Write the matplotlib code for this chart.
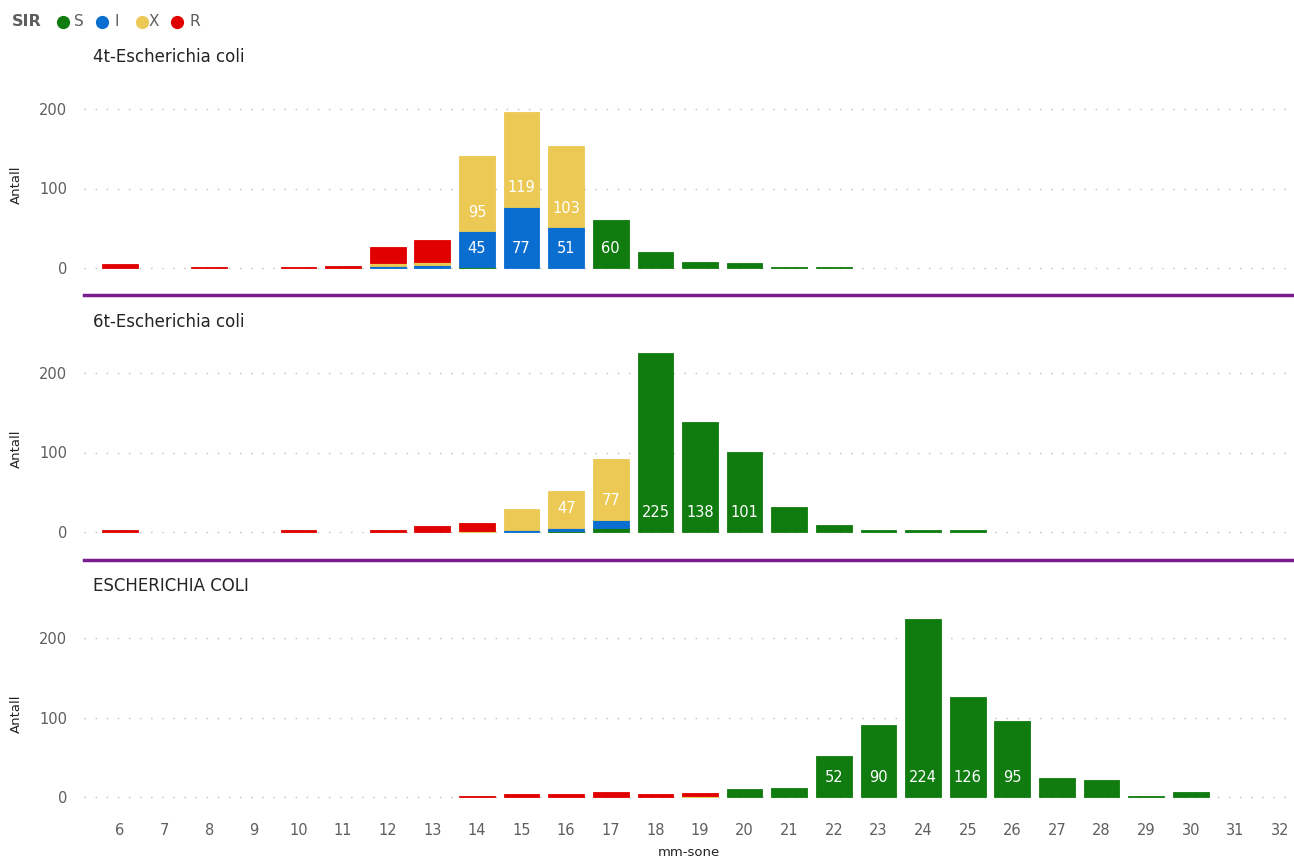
import numpy as np
import matplotlib
matplotlib.use("Agg")
import matplotlib.pyplot as plt
from matplotlib.lines import Line2D

plt.rcParams['font.family'] = ['DejaVu Sans']

# mm-sone kategorier
soner = list(range(6, 33))

titler = ["4t-Escherichia coli", "6t-Escherichia coli", "ESCHERICHIA COLI"]

# verdier per sone (6..32) for S, I, X, R
#            6  7  8  9 10 11 12 13  14  15  16  17  18   19   20  21 22 23  24   25  26  27  28 29 30 31 32
s_4t = [0, 0, 0, 0, 0, 0, 0, 0, 1, 0, 0, 60, 20, 8, 6, 1, 1, 0, 0, 0, 0, 0, 0, 0, 0, 0, 0]
i_4t = [0, 0, 0, 0, 0, 0, 3, 4, 45, 77, 51, 0, 0, 0, 0, 0, 0, 0, 0, 0, 0, 0, 0, 0, 0, 0, 0]
x_4t = [0, 0, 0, 0, 0, 0, 3, 3, 95, 119, 103, 0, 0, 0, 0, 0, 0, 0, 0, 0, 0, 0, 0, 0, 0, 0, 0]
r_4t = [5, 0, 1, 0, 1, 2, 20, 28, 0, 0, 0, 0, 0, 0, 0, 0, 0, 0, 0, 0, 0, 0, 0, 0, 0, 0, 0]

s_6t = [0, 0, 0, 0, 0, 0, 0, 0, 0, 0, 1, 5, 225, 138, 101, 32, 9, 3, 2, 2, 0, 0, 0, 0, 0, 0, 0]
i_6t = [0, 0, 0, 0, 0, 0, 0, 0, 0, 2, 4, 10, 0, 0, 0, 0, 0, 0, 0, 0, 0, 0, 0, 0, 0, 0, 0]
x_6t = [0, 0, 0, 0, 0, 0, 0, 0, 1, 27, 47, 77, 0, 0, 0, 0, 0, 0, 0, 0, 0, 0, 0, 0, 0, 0, 0]
r_6t = [2, 0, 0, 0, 2, 0, 2, 8, 10, 0, 0, 0, 0, 0, 0, 0, 0, 0, 0, 0, 0, 0, 0, 0, 0, 0, 0]

s_ec = [0, 0, 0, 0, 0, 0, 0, 0, 0, 0, 0, 0, 0, 0, 10, 11, 52, 90, 224, 126, 95, 24, 22, 1, 6, 0, 0]
i_ec = [0] * 27
x_ec = [0, 0, 0, 0, 0, 0, 0, 0, 0, 0, 0, 0, 0, 1, 0, 0, 0, 0, 0, 0, 0, 0, 0, 0, 0, 0, 0]
r_ec = [0, 0, 0, 0, 0, 0, 0, 0, 1, 4, 4, 6, 4, 4, 0, 0, 0, 0, 0, 0, 0, 0, 0, 0, 0, 0, 0]

paneler = [
    (s_4t, i_4t, x_4t, r_4t),
    (s_6t, i_6t, x_6t, r_6t),
    (s_ec, i_ec, x_ec, r_ec),
]

navn = ["S", "I", "X", "R"]
farger = ["#107C10", "#0A6ED1", "#EBC954", "#E00000"]

fig = plt.figure(figsize=(12.94, 8.58), dpi=100)
W, H = 1294, 858

# null-linje (piksel) for hvert panel
null_px = [268, 532, 797]
px_per = 159 / 200
ymin, ymax = -15, 225
venstre = 84

for k in range(3):
    topp = null_px[k] - ymax * px_per
    bunn = null_px[k] - ymin * px_per
    ax = fig.add_axes([venstre / W, 1 - bunn / H, (W - venstre) / W, (bunn - topp) / H])
    x = np.array(soner)
    base = np.zeros(len(soner))
    for j in range(4):
        v = np.array(paneler[k][j], dtype=float)
        m = v > 0
        ax.bar(x[m], v[m], bottom=base[m], width=0.8, color=farger[j],
               edgecolor=farger[j], linewidth=0.6, zorder=3)
        for xi, vi, bi in zip(x, v, base):
            if vi >= 40:
                ax.text(xi, bi + 24, str(int(vi)), ha="center", va="center",
                        color="white", fontsize=10.5, zorder=4)
        base = base + v
    ax.set_xlim(6 - 36 / 44.6, 32 + 14 / 44.6)
    ax.set_ylim(ymin, ymax)
    ax.set_yticks([0, 100, 200])
    ax.grid(axis="y", linestyle=(0, (1, 7)), color="#BEBEBE", linewidth=1, zorder=0)
    for sp in ax.spines.values():
        sp.set_visible(False)
    ax.tick_params(axis="y", length=0, labelsize=10.5, labelcolor="#605E5C", pad=12)
    ax.set_ylabel("Antall", fontsize=9.5, color="#252423", labelpad=12)
    if k < 2:
        ax.set_xticks([])
    else:
        ax.set_xticks(soner)
        ax.tick_params(axis="x", length=0, labelsize=10.5, labelcolor="#605E5C", pad=10)
        ax.set_xlabel("mm-sone", fontsize=9.5, color="#252423", labelpad=6)

# titler
for k, (t, yp) in enumerate(zip(titler, [57, 322, 586])):
    fig.text(93 / W, 1 - yp / H, t, fontsize=12, color="#252423", va="center", ha="left")

# lilla skillelinjer
for yp in [295, 560]:
    fig.add_artist(Line2D([venstre / W, 1], [1 - yp / H, 1 - yp / H], color="#7A1E8F", linewidth=2.5))

# legende
fig.text(12 / W, 1 - 22 / H, "SIR", fontsize=11.5, fontweight="bold", color="#605E5C", va="center")
for n, f, cx, tx in zip(navn, farger, [63, 102, 142, 177], [74, 114, 149, 189]):
    fig.add_artist(Line2D([cx / W], [1 - 22 / H], marker="o", markersize=8.5, color=f, linestyle=""))
    fig.text(tx / W, 1 - 22 / H, n, fontsize=11, color="#605E5C", va="center")

fig.savefig("out.png", dpi=100)
